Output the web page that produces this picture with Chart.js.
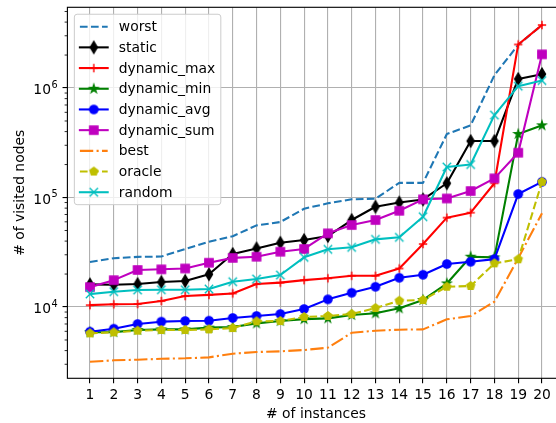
<!DOCTYPE html>
<html>
<head>
<meta charset="utf-8">
<title>Visited nodes per instance</title>
<style>
  html, body { margin: 0; padding: 0; overflow: hidden; background: #fff; width: 556px; height: 423px; }
  #wrap { position: absolute; left: 0; top: 0; width: 580px; height: 423px; }
</style>
<script src="https://cdn.jsdelivr.net/npm/chart.js@4/dist/chart.umd.min.js"></script>
</head>
<body>
<div id="wrap"><canvas id="c" width="580" height="423"></canvas></div>
<script>
// ---- data ----
const instances = [1, 2, 3, 4, 5, 6, 7, 8, 9, 10, 11, 12, 13, 14, 15, 16, 17, 18, 19, 20];
const xTickLabels = instances.map(String);
const yTickValues = [1e4, 1e5, 1e6];

const worst       = [25800, 27900, 28700, 28900, 33900, 39500, 44300, 55700, 59700, 79000, 88500, 96300, 97600, 136000, 136000, 380000, 456000, 1310000, 2480000, 3760000];
const staticS     = [16100, 16000, 16200, 16900, 17300, 19900, 30500, 34300, 38600, 40900, 44500, 62300, 82400, 90000, 96000, 135000, 328000, 328000, 1210000, 1340000];
const dynamicMax  = [10400, 10600, 10650, 11350, 12600, 12900, 13300, 16200, 16700, 17600, 18300, 19300, 19300, 22500, 37600, 65500, 72700, 135000, 2500000, 3760000];
const dynamicMin  = [5880, 5900, 6170, 6250, 6250, 6480, 6560, 7090, 7450, 7750, 7880, 8450, 8760, 9730, 11600, 16400, 28800, 28400, 380000, 456000];
const dynamicAvg  = [5950, 6340, 6990, 7350, 7450, 7500, 7940, 8280, 8630, 9590, 11750, 13500, 15300, 18500, 19700, 24700, 25900, 27400, 107600, 139000];
const dynamicSum  = [15200, 17600, 21800, 22100, 22500, 25400, 28100, 28800, 32000, 33900, 47100, 56100, 62300, 75700, 96300, 98000, 114600, 149700, 256500, 2030000];
const best        = [3160, 3260, 3300, 3370, 3400, 3470, 3750, 3880, 3940, 4050, 4250, 5820, 6080, 6210, 6250, 7720, 8280, 11180, 27900, 71800];
const oracle      = [5750, 5870, 6080, 6170, 6170, 6250, 6430, 7400, 7450, 8110, 8280, 8630, 9790, 11420, 11580, 15330, 15560, 25060, 27300, 139000];
const random      = [13150, 13810, 14300, 14370, 14370, 14590, 17020, 18030, 19600, 28440, 33650, 35100, 41500, 43300, 66800, 190000, 200000, 566000, 1040000, 1170000];

// ---- style ----
const PT = 100 / 72;            // points -> px
const FS = 10 * PT;             // base font size
const LW = 1.5 * PT;            // line width
const MS = 6 * PT;              // marker size
const FAMILY = '"DejaVu Sans", sans-serif';
const DASHED = [3.7 * LW * 1, 1.6 * LW].map(v => v * 1.0);
const DASHDOT = [6.4 * LW, 1.6 * LW, 1.0 * LW, 1.6 * LW];

function makeMarker(kind, color) {
  const s = 18, m = s / 2, r = MS / 2;
  const c = document.createElement('canvas');
  c.width = s; c.height = s;
  const g = c.getContext('2d');
  g.fillStyle = color; g.strokeStyle = color; g.lineWidth = PT;
  g.beginPath();
  if (kind === 'circle') {
    g.arc(m, m, r, 0, Math.PI * 2);
    g.fill(); g.stroke();
  } else if (kind === 'square') {
    g.rect(m - r, m - r, 2 * r, 2 * r);
    g.fill(); g.stroke();
  } else if (kind === 'thin_diamond') {
    const h = r * Math.SQRT2, w = 0.6 * h;
    g.moveTo(m, m - h); g.lineTo(m + w, m); g.lineTo(m, m + h); g.lineTo(m - w, m); g.closePath();
    g.fill(); g.stroke();
  } else if (kind === 'plus') {
    g.moveTo(m - r, m); g.lineTo(m + r, m); g.moveTo(m, m - r); g.lineTo(m, m + r);
    g.stroke();
  } else if (kind === 'x') {
    g.moveTo(m - r, m - r); g.lineTo(m + r, m + r); g.moveTo(m - r, m + r); g.lineTo(m + r, m - r);
    g.stroke();
  } else if (kind === 'star') {
    const ri = r * 0.381966;
    for (let k = 0; k < 10; k++) {
      const rr = k % 2 ? ri : r;
      const a = -Math.PI / 2 + k * Math.PI / 5;
      const px = m + rr * Math.cos(a), py = m + rr * Math.sin(a);
      k ? g.lineTo(px, py) : g.moveTo(px, py);
    }
    g.closePath(); g.fill(); g.stroke();
  } else if (kind === 'pentagon') {
    for (let k = 0; k < 5; k++) {
      const a = -Math.PI / 2 + k * 2 * Math.PI / 5;
      const px = m + r * Math.cos(a), py = m + r * Math.sin(a);
      k ? g.lineTo(px, py) : g.moveTo(px, py);
    }
    g.closePath(); g.fill(); g.stroke();
  }
  return c;
}

const series = [
  { label: 'worst',       values: worst,      color: '#1f77b4', dash: DASHED,  marker: null },
  { label: 'static',      values: staticS,    color: '#000000', dash: [],      marker: 'thin_diamond' },
  { label: 'dynamic_max', values: dynamicMax, color: '#ff0000', dash: [],      marker: 'plus' },
  { label: 'dynamic_min', values: dynamicMin, color: '#008000', dash: [],      marker: 'star' },
  { label: 'dynamic_avg', values: dynamicAvg, color: '#0000ff', dash: [],      marker: 'circle' },
  { label: 'dynamic_sum', values: dynamicSum, color: '#bf00bf', dash: [],      marker: 'square' },
  { label: 'best',        values: best,       color: '#ff7f0e', dash: DASHDOT, marker: null },
  { label: 'oracle',      values: oracle,     color: '#bfbf00', dash: DASHED,  marker: 'pentagon' },
  { label: 'random',      values: random,     color: '#00bfbf', dash: [],      marker: 'x' }
];
series.forEach(s => { s.img = s.marker ? makeMarker(s.marker, s.color) : null; });

const datasets = series.map((s, i) => ({
  label: s.label,
  data: instances.map((x, j) => ({ x: x, y: s.values[j] })),
  borderColor: s.color,
  backgroundColor: s.color,
  borderWidth: LW,
  borderDash: s.dash,
  borderJoinStyle: 'round',
  borderCapStyle: s.dash.length ? 'butt' : 'square',
  tension: 0,
  fill: false,
  pointStyle: s.img || 'circle',
  pointRadius: s.img ? 4 : 0,
  order: -i
}));

// axes frame, minor y ticks, y tick labels with exponents
const framePlugin = {
  id: 'frame',
  afterDatasetsDraw(chart) {
    const ctx = chart.ctx, a = chart.chartArea, sy = chart.scales.y;
    ctx.save();
    ctx.strokeStyle = '#000';
    ctx.lineWidth = 0.8 * PT;
    ctx.strokeRect(a.left, a.top, a.right - a.left, a.bottom - a.top);

    // minor ticks
    ctx.lineWidth = 0.6 * PT;
    ctx.beginPath();
    for (let d = 1e3; d <= 1e6; d *= 10) {
      for (let k = 2; k <= 9; k++) {
        const v = k * d;
        if (v <= sy.min || v >= sy.max) continue;
        const y = sy.getPixelForValue(v);
        ctx.moveTo(a.left, y); ctx.lineTo(a.left - 2 * PT, y);
      }
    }
    ctx.stroke();

    // tick labels 10^n
    ctx.fillStyle = '#000';
    ctx.textAlign = 'right';
    ctx.textBaseline = 'alphabetic';
    const xr = a.left - 3.5 * PT - 3.5 * PT;
    yTickValues.forEach(v => {
      const y = sy.getPixelForValue(v);
      const ex = String(Math.round(Math.log10(v)));
      ctx.font = (FS * 0.7) + 'px ' + FAMILY;
      const ew = ctx.measureText(ex).width;
      ctx.fillText(ex, xr, y - 0.5);
      ctx.font = FS + 'px ' + FAMILY;
      ctx.fillText('10', xr - ew - 0.5, y + 6);
    });
    ctx.restore();
  }
};

// legend box in the upper left corner of the plot
const legendPlugin = {
  id: 'boxLegend',
  afterDraw(chart) {
    const ctx = chart.ctx, a = chart.chartArea;
    ctx.save();
    ctx.font = FS + 'px ' + FAMILY;
    const pad = 0.5 * FS, bp = 0.4 * FS, hl = 2 * FS, htp = 0.8 * FS, ls = 0.5 * FS, rowH = 13.75;
    const bx = a.left + pad, by = a.top + pad;
    const tw = Math.max(...series.map(s => ctx.measureText(s.label).width));
    const w = bp + hl + htp + tw + bp;
    const h = 2 * bp + series.length * rowH + (series.length - 1) * ls;
    const rad = 0.2 * FS;
    ctx.beginPath();
    ctx.moveTo(bx + rad, by);
    ctx.arcTo(bx + w, by, bx + w, by + h, rad);
    ctx.arcTo(bx + w, by + h, bx, by + h, rad);
    ctx.arcTo(bx, by + h, bx, by, rad);
    ctx.arcTo(bx, by, bx + w, by, rad);
    ctx.closePath();
    ctx.fillStyle = 'rgba(255,255,255,0.8)';
    ctx.fill();
    ctx.strokeStyle = '#cccccc';
    ctx.lineWidth = 1;
    ctx.stroke();

    series.forEach((s, i) => {
      const cy = by + bp + rowH / 2 + i * (rowH + ls);
      const x0 = bx + bp, x1 = x0 + hl;
      ctx.strokeStyle = s.color;
      ctx.lineWidth = LW;
      ctx.setLineDash(s.dash);
      ctx.lineCap = s.dash.length ? 'butt' : 'square';
      ctx.beginPath(); ctx.moveTo(x0, cy); ctx.lineTo(x1, cy); ctx.stroke();
      ctx.setLineDash([]);
      if (s.img) ctx.drawImage(s.img, (x0 + x1) / 2 - s.img.width / 2, cy - s.img.height / 2);
      ctx.fillStyle = '#000';
      ctx.textAlign = 'left';
      ctx.textBaseline = 'alphabetic';
      ctx.fillText(s.label, x1 + htp, cy + 4.5);
    });
    ctx.restore();
  }
};

Chart.defaults.font.family = FAMILY;
Chart.defaults.color = '#000';

new Chart(document.getElementById('c'), {
  type: 'line',
  data: { datasets: datasets },
  options: {
    responsive: false,
    animation: false,
    events: [],
    layout: { padding: { top: 7.3, right: 15.4, left: 0, bottom: 0 } },
    plugins: { legend: { display: false }, tooltip: { enabled: false } },
    scales: {
      x: {
        type: 'linear',
        min: 0.05,
        max: 20.95,
        afterBuildTicks: s => { s.ticks = instances.map(v => ({ value: v })); },
        afterFit: s => { s.height = 423 - 378.3; },
        grid: { color: '#b0b0b0', lineWidth: 0.8 * PT, tickLength: 3.5 * PT, tickColor: '#000', tickWidth: 0.8 * PT },
        border: { display: false },
        ticks: {
          font: { size: FS, family: FAMILY },
          color: '#000',
          padding: 3.7,
          maxRotation: 0,
          autoSkip: false,
          callback: (v, i) => xTickLabels[i]
        },
        title: { display: true, text: '# of instances', font: { size: FS, family: FAMILY }, color: '#000', padding: { top: 0, bottom: 0 } }
      },
      y: {
        type: 'logarithmic',
        min: 2234,
        max: 5.46e6,
        afterBuildTicks: s => { s.ticks = yTickValues.map(v => ({ value: v })); },
        afterFit: s => { s.width = 67.4; },
        grid: { color: '#b0b0b0', lineWidth: 0.8 * PT, tickLength: 3.5 * PT, tickColor: '#000', tickWidth: 0.8 * PT },
        border: { display: false },
        ticks: { display: false },
        title: { display: true, text: '# of visited nodes', font: { size: FS, family: FAMILY }, color: '#000', padding: { top: 11.9, bottom: 0 } }
      }
    }
  },
  plugins: [framePlugin, legendPlugin]
});
</script>
</body>
</html>
